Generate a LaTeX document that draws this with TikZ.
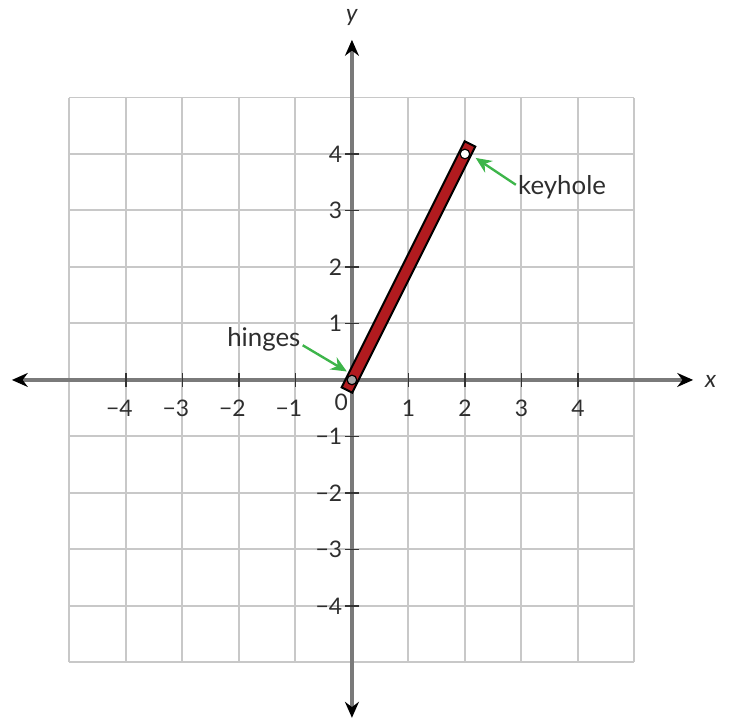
\documentclass[tikz,border=0pt]{standalone}
\usepackage{fontspec}
\setmainfont{Lato}
\usetikzlibrary{arrows.meta}
\definecolor{gridgray}{HTML}{C8C8C8}
\definecolor{axisgray}{HTML}{7A7A7A}
\definecolor{tickdark}{HTML}{333333}
\definecolor{barred}{HTML}{B21B1F}
\definecolor{arrowgreen}{HTML}{3DB54A}
\definecolor{textgray}{HTML}{2E2E2E}
\tikzset{
  gridline/.style={draw=gridgray, line width=1pt},
  axisline/.style={draw=axisgray, line width=1.6pt, {Stealth[length=8pt,width=7pt,color=black]}-{Stealth[length=8pt,width=7pt,color=black]}},
  tickmark/.style={draw=tickdark, line width=0.9pt},
  ticklabel/.style={font=\fontsize{11.5}{13}\selectfont, text=textgray, inner sep=1pt},
  axislabel/.style={font=\fontsize{12}{14}\selectfont\itshape, text=textgray},
  calllabel/.style={font=\fontsize{13}{15}\selectfont, text=textgray, inner sep=1pt},
  greenarrow/.style={draw=arrowgreen, line width=1.2pt, -{Stealth[length=8pt,width=7pt]}},
  pinhole/.style={circle, draw=black, line width=0.6pt, minimum size=0.17cm, inner sep=0pt}
}
\begin{document}
\begin{tikzpicture}[x=1cm,y=1cm]
\useasboundingbox (-6.23,-6.035) rectangle (6.71,6.726);
% grid
\foreach \i in {-5,...,5} {
  \draw[gridline] (\i,-5) -- (\i,5);
  \draw[gridline] (-5,\i) -- (5,\i);
}
% axes
\coordinate (xl) at (-6.02,0);
\coordinate (xr) at (6.04,0);
\coordinate (yb) at (0,-5.98);
\coordinate (yt) at (0,6.02);
\draw[axisline] (xl) -- (xr);
\draw[axisline] (yb) -- (yt);
% ticks
\foreach \i in {-4,...,-1,1,2,3,4} {
  \draw[tickmark] (\i,-0.12) -- (\i,0.12);
  \draw[tickmark] (-0.12,\i) -- (0.12,\i);
}
% tick labels
\foreach \i in {1,...,4} {
  \node[ticklabel] (xp\i) at (\i,-0.5) {\i};
  \node[ticklabel] (xn\i) at (-\i,-0.5) {\llap{−}\i};
  \node[ticklabel, anchor=east] (yp\i) at (-0.13,\i) {\i};
  \node[ticklabel, anchor=east] (yn\i) at (-0.13,-\i) {−\i};
}
\node[ticklabel] (zero) at (-0.19,-0.4) {0};
% axis labels
\node[axislabel] (xlab) at (6.35,-0.02) {x};
\node[axislabel] (ylab) at (0,6.41) {y};
% bar
\node[draw=black, line width=1pt, fill=barred, rotate=63.435, minimum width=4.87cm, minimum height=0.21cm, inner sep=0pt] (bar) at (1,2) {};
\node[pinhole, fill=gray!70] (hinge) at (0,0) {};
\node[pinhole, fill=white] (keyhole) at (2,4) {};
% callouts
\node[calllabel] (hlabel) at (-1.56,0.72) {hinges};
\node[calllabel] (klabel) at (3.72,3.42) {keyhole};
\coordinate (hingetip) at (-0.09,0.15);
\coordinate (keytip) at (2.19,3.93);
\draw[greenarrow] ([yshift=-3pt]hlabel.east) -- (hingetip);
\draw[greenarrow] ([yshift=1pt]klabel.west) -- (keytip);
\end{tikzpicture}
\end{document}
